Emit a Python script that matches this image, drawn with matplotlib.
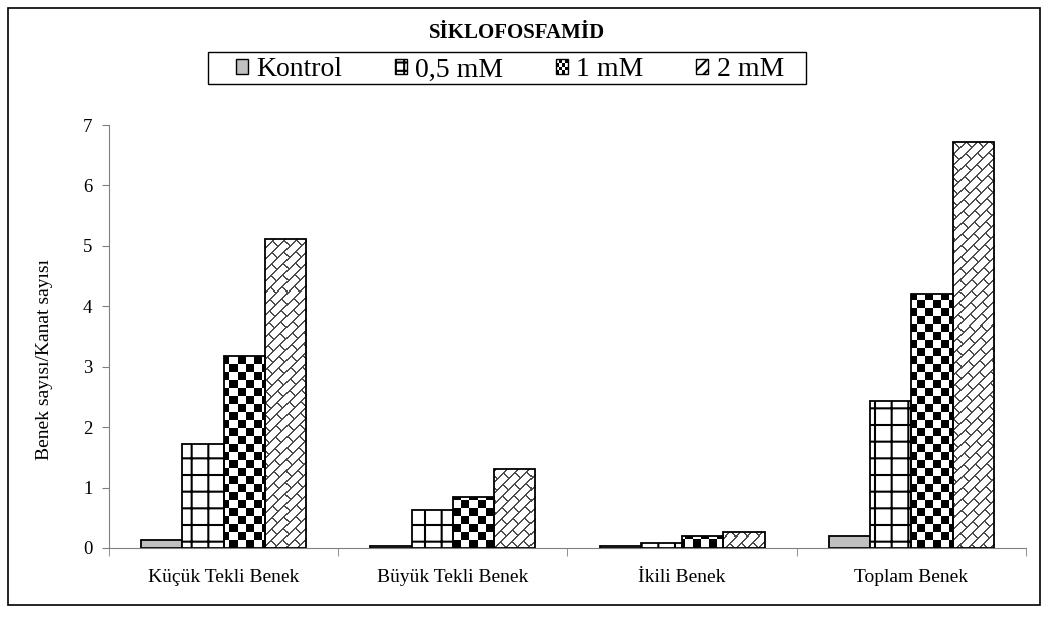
import numpy as np
import matplotlib.pyplot as plt
from matplotlib.patches import Rectangle
from matplotlib.legend_handler import HandlerBase

categories = ['Küçük Tekli Benek', 'Büyük Tekli Benek', 'İkili Benek', 'Toplam Benek']
series = ['Kontrol', '0,5 mM', '1 mM', '2 mM']
kontrol = [0.14, 0.03, 0.03, 0.20]
mm_05 = [1.72, 0.63, 0.085, 2.43]
mm_1 = [3.17, 0.84, 0.20, 4.20]
mm_2 = [5.12, 1.30, 0.27, 6.72]
yticks = [0, 1, 2, 3, 4, 5, 6, 7]

plt.rcParams['font.family'] = ['Liberation Serif', 'DejaVu Serif']
plt.rcParams['hatch.linewidth'] = 1.5

fig = plt.figure(figsize=(10.48, 6.22), dpi=100)
ax = fig.add_axes([0.104, 0.119, 0.875, 0.680])
xlim = (-0.5, 3.5)
ylim = (0, 7)

# pixel patterns covering the whole axes, later clipped to each bar
bb = ax.get_window_extent()
pw, ph = int(round(bb.width)), int(round(bb.height))
yy, xx = np.mgrid[0:ph, 0:pw]
checker = ((xx // 8 + yy // 8) % 2 == 0).astype(float)
a = xx - yy
b = xx + yy
P, Q = 11, 24
strip = np.floor_divide(a, P)
brick_lines = (np.mod(a, P) < 2) | (np.mod(b + (strip % 2) * Q // 2, Q) < 2)
brick = np.where(brick_lines, 0.3, 1.0)

x = np.arange(len(categories))
bw = 0.18
offs = (np.arange(4) - 1.5) * bw

ax.bar(x + offs[0], kontrol, bw, facecolor='#c0c0c0', edgecolor='black', lw=1.3, zorder=2)
ax.bar(x + offs[1], mm_05, bw, facecolor='white', edgecolor='black', hatch='+', lw=1.3, zorder=2)
for vals, off, pat in [(mm_1, offs[2], checker), (mm_2, offs[3], brick)]:
    bars = ax.bar(x + off, vals, bw, facecolor='white', edgecolor='none', zorder=1)
    for rect in bars:
        im = ax.imshow(pat, cmap='gray', vmin=0, vmax=1, origin='lower',
                       extent=(*xlim, *ylim), aspect='auto',
                       interpolation='nearest', zorder=1.5)
        im.set_clip_path(rect)
    ax.bar(x + off, vals, bw, fill=False, edgecolor='black', lw=1.3, zorder=3)

ax.set_xlim(*xlim)
ax.set_ylim(*ylim)
ax.spines[['top', 'right']].set_visible(False)
for s in ['left', 'bottom']:
    ax.spines[s].set_color('#808080')
ax.set_yticks(yticks)
ax.tick_params(axis='y', direction='out', length=5, color='#808080', labelsize=13.5, pad=7)
ax.set_xticks(x, categories)
ax.tick_params(axis='x', which='major', length=0, labelsize=14, pad=15)
ax.set_xticks(np.arange(-0.5, 4, 1), minor=True)
ax.tick_params(axis='x', which='minor', direction='out', length=6, color='#808080')

fig.text(45 / 1048, 1 - 360 / 622, 'Benek sayısı/Kanat sayısı', rotation=90,
         ha='center', va='center', fontsize=14)
fig.text(517 / 1048, 1 - 33 / 622, 'SİKLOFOSFAMİD', weight='bold',
         ha='center', va='center', fontsize=15)


class CheckerHandler(HandlerBase):
    def create_artists(self, legend, orig_handle, xdescent, ydescent,
                       width, height, fontsize, trans):
        n = 4
        cw, ch = width / n, height / n
        arts = [Rectangle((-xdescent, -ydescent), width, height, facecolor='white',
                          edgecolor='black', lw=1, transform=trans)]
        for i in range(n):
            for j in range(n):
                if (i + j) % 2 == 0:
                    arts.append(Rectangle((-xdescent + i * cw, -ydescent + j * ch), cw, ch,
                                          facecolor='black', edgecolor='none', transform=trans))
        return arts


h_k = Rectangle((0, 0), 1, 1, facecolor='#c0c0c0', edgecolor='black', lw=1)
h_05 = Rectangle((0, 0), 1, 1, facecolor='white', edgecolor='black', hatch='++', lw=1)
h_1 = Rectangle((0, 0), 1, 1)
h_2 = Rectangle((0, 0), 1, 1, facecolor='white', edgecolor='black', hatch='///', lw=1)
fig.legend([h_k, h_05, h_1, h_2], series, loc='center',
           bbox_to_anchor=(510 / 1048, 1 - 70 / 622), ncol=4, fontsize=20,
           frameon=False, handlelength=0.43, handleheight=0.43, handletextpad=0.3,
           columnspacing=1.9, borderpad=0.15, borderaxespad=0,
           handler_map={h_1: CheckerHandler()})
# legend box
fig.patches.append(Rectangle((208 / 1048, 1 - 84 / 622), 598 / 1048, 32 / 622,
                             transform=fig.transFigure, fill=False,
                             edgecolor='black', lw=1.0))

# outer border
fig.patches.append(Rectangle((8 / 1048, 17 / 622), 1032 / 1048, 597 / 622,
                             transform=fig.transFigure, fill=False,
                             edgecolor='black', lw=1.2))

fig.savefig('out.png', dpi=100)
